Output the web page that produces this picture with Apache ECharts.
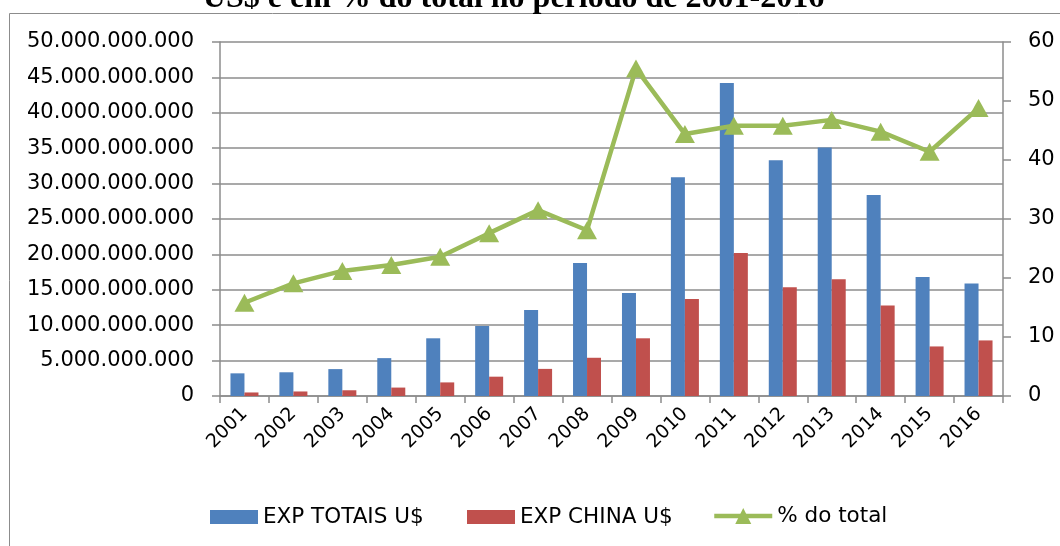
<!DOCTYPE html>
<html>
<head>
<meta charset="utf-8">
<script src="https://cdn.jsdelivr.net/npm/echarts@6/dist/echarts.min.js"></script>
<style>
  html, body { margin: 0; padding: 0; background: #ffffff; }
  #chart { width: 1060px; height: 546px; }
</style>
</head>
<body>
<div id="chart"></div>
<script>
// Exportações totais e para a China (US$) e participação da China (% do total), 2001-2016
const years = ['2001', '2002', '2003', '2004', '2005', '2006', '2007', '2008',
               '2009', '2010', '2011', '2012', '2013', '2014', '2015', '2016'];

const expTotais = [3200000000, 3350000000, 3800000000, 5350000000, 8150000000, 9900000000,
                   12150000000, 18800000000, 14550000000, 30900000000, 44200000000,
                   33300000000, 35100000000, 28400000000, 16800000000, 15900000000];

const expChina = [500000000, 640000000, 810000000, 1190000000, 1920000000, 2730000000,
                  3830000000, 5400000000, 8150000000, 13700000000, 20200000000,
                  15350000000, 16500000000, 12800000000, 7000000000, 7850000000];

const pctTotal = [15.8, 19.1, 21.2, 22.2, 23.6, 27.6, 31.5, 28.1,
                  55.5, 44.4, 45.8, 45.8, 46.8, 44.8, 41.4, 48.8];

const seriesNames = ['EXP TOTAIS U$', 'EXP CHINA U$', '% do total'];
const titleText = 'US$ e em % do total no período de 2001-2016';

const FONT = '"DejaVu Sans", sans-serif';
const AXIS_GREY = '#8c8c8c';
const GREEN = '#9BBB59';

// thousands separated with dots
function fmtDots(v) {
  return String(Math.round(v)).replace(/\B(?=(\d{3})+(?!\d))/g, '.');
}

const chart = echarts.init(document.getElementById('chart'), null, { renderer: 'canvas' });

const legendBase = {
  orient: 'horizontal',
  top: 506,
  padding: 0,
  itemHeight: 14,
  itemWidth: 48,
  icon: 'rect',
  textStyle: { fontFamily: FONT, fontSize: 21.5, color: '#000' },
  selectedMode: false
};

chart.setOption({
  animation: false,
  backgroundColor: '#ffffff',
  graphic: [
    {
      type: 'rect',
      z: -10,
      silent: true,
      shape: { x: 9.5, y: 13.5, width: 1200, height: 700 },
      style: { fill: 'none', stroke: AXIS_GREY, lineWidth: 1 }
    },
    {
      type: 'text',
      silent: true,
      x: 513.5,
      y: 15,
      style: {
        text: titleText,
        font: 'bold 32px "Liberation Serif", serif',
        fill: '#000',
        textAlign: 'center',
        textVerticalAlign: 'bottom'
      }
    }
  ],
  legend: [
    Object.assign({}, legendBase, { left: 210, data: [seriesNames[0]] }),
    Object.assign({}, legendBase, { left: 467, data: [seriesNames[1]] }),
    {
      orient: 'horizontal',
      left: 712,
      top: 505,
      padding: 0,
      itemWidth: 58,
      itemHeight: 20,
      selectedMode: false,
      textStyle: { fontFamily: FONT, fontSize: 21.5, color: '#000' },
      lineStyle: { width: 4.5 },
      data: [{
        name: seriesNames[2],
        itemStyle: { color: GREEN },
        lineStyle: { color: GREEN, width: 4.5 }
      }]
    }
  ],
  grid: { left: 220, right: 57, top: 42, bottom: 150 },
  xAxis: {
    type: 'category',
    data: years,
    axisLine: { show: true, lineStyle: { color: AXIS_GREY, width: 1.5 } },
    axisTick: { show: true, alignWithLabel: false, length: 7, lineStyle: { color: AXIS_GREY, width: 1.5 } },
    axisLabel: {
      rotate: 45,
      margin: 15,
      interval: 0,
      fontFamily: FONT,
      fontSize: 19,
      color: '#000'
    }
  },
  yAxis: [
    {
      type: 'value',
      position: 'left',
      min: 0,
      max: 50000000000,
      interval: 5000000000,
      axisLine: { show: true, lineStyle: { color: AXIS_GREY, width: 1.5 } },
      axisTick: { show: true, inside: false, length: 8, lineStyle: { color: AXIS_GREY, width: 1.5 } },
      splitLine: { show: true, lineStyle: { color: AXIS_GREY, width: 1.5 } },
      axisLabel: { margin: 26, fontFamily: FONT, fontSize: 21, color: '#000', formatter: fmtDots }
    },
    {
      type: 'value',
      position: 'right',
      min: 0,
      max: 60,
      interval: 10,
      axisLine: { show: true, lineStyle: { color: AXIS_GREY, width: 1.5 } },
      axisTick: { show: true, inside: false, length: 8, lineStyle: { color: AXIS_GREY, width: 1.5 } },
      splitLine: { show: false },
      axisLabel: { margin: 25, fontFamily: FONT, fontSize: 21, color: '#000' }
    }
  ],
  series: [
    {
      name: seriesNames[0],
      type: 'bar',
      yAxisIndex: 0,
      data: expTotais,
      barWidth: 14,
      barGap: '0%',
      itemStyle: { color: '#4F81BD' }
    },
    {
      name: seriesNames[1],
      type: 'bar',
      yAxisIndex: 0,
      data: expChina,
      barWidth: 14,
      barGap: '0%',
      itemStyle: { color: '#C0504D' }
    },
    {
      name: seriesNames[2],
      type: 'line',
      yAxisIndex: 1,
      data: pctTotal,
      symbol: 'triangle',
      symbolSize: [20, 18],
      showAllSymbol: true,
      lineStyle: { color: GREEN, width: 4.5 },
      itemStyle: { color: GREEN },
      z: 5
    }
  ]
});
</script>
</body>
</html>
